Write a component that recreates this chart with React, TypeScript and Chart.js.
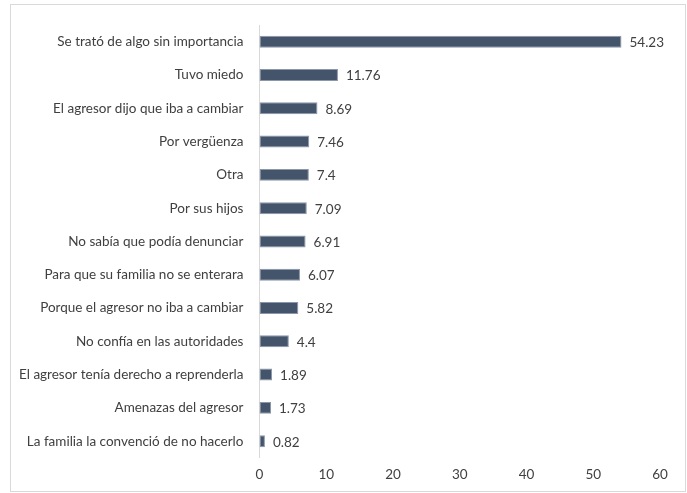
import React, { useEffect, useRef } from "react";
import { Chart, registerables } from "chart.js";

Chart.register(...registerables);

const categories = [
  "Se trató de algo sin importancia",
  "Tuvo miedo",
  "El agresor dijo que iba a cambiar",
  "Por vergüenza",
  "Otra",
  "Por sus hijos",
  "No sabía que podía denunciar",
  "Para que su familia no se enterara",
  "Porque el agresor no iba a cambiar",
  "No confía en las autoridades",
  "El agresor tenía derecho a reprenderla",
  "Amenazas del agresor",
  "La familia la convenció de no hacerlo",
];
const values = [54.23, 11.76, 8.69, 7.46, 7.4, 7.09, 6.91, 6.07, 5.82, 4.4, 1.89, 1.73, 0.82];
const xTicks = [0, 10, 20, 30, 40, 50, 60];

const FONT = "Lato, 'Open Sans', sans-serif";

const valueLabels = {
  id: "valueLabels",
  afterDatasetsDraw(chart: any) {
    const ctx = chart.ctx;
    const meta = chart.getDatasetMeta(0);
    ctx.save();
    ctx.font = `13.5px ${FONT}`;
    ctx.fillStyle = "#404040";
    ctx.textAlign = "left";
    ctx.textBaseline = "middle";
    meta.data.forEach((bar: any, i: number) => {
      ctx.fillText(String(values[i]), bar.x + 8, bar.y + 1);
    });
    ctx.restore();
  },
};

export default function App() {
  const ref = useRef<HTMLCanvasElement>(null);
  useEffect(() => {
    document.body.style.margin = "0";
    const chart = new Chart(ref.current!, {
      type: "bar",
      data: {
        labels: categories,
        datasets: [
          {
            data: values,
            backgroundColor: "#44546A",
            borderColor: "#8A97AA",
            borderWidth: 1,
            borderSkipped: false,
            barPercentage: 0.72,
            categoryPercentage: 0.5,
          },
        ],
      },
      options: {
        indexAxis: "y",
        animation: false,
        responsive: false,
        layout: { padding: { top: 8, right: 25, bottom: -5, left: -8 } },
        plugins: { legend: { display: false }, tooltip: { enabled: false } },
        scales: {
          x: {
            min: 0,
            max: 60,
            afterBuildTicks: (axis: any) => {
              axis.ticks = xTicks.map((v) => ({ value: v }));
            },
            grid: { display: false, drawTicks: false },
            border: { display: false },
            ticks: { color: "#404040", font: { family: FONT, size: 13.5 }, padding: 9 },
          },
          y: {
            grid: { display: false, drawTicks: false },
            border: { display: true, color: "#D9D9D9", width: 1 },
            ticks: { color: "#404040", font: { family: FONT, size: 13.5 }, padding: 16 },
          },
        },
      },
      plugins: [valueLabels],
    });
    return () => chart.destroy();
  }, []);
  return (
    <div
      style={{
        position: "absolute",
        left: 10,
        top: 4,
        width: 674,
        height: 486,
        border: "1px solid #D9D9D9",
        background: "#fff",
        overflow: "hidden",
      }}
    >
      <canvas
        ref={ref}
        width={674}
        height={486}
        style={{ display: "block", position: "absolute", left: 0, top: -4 }}
      />
    </div>
  );
}
